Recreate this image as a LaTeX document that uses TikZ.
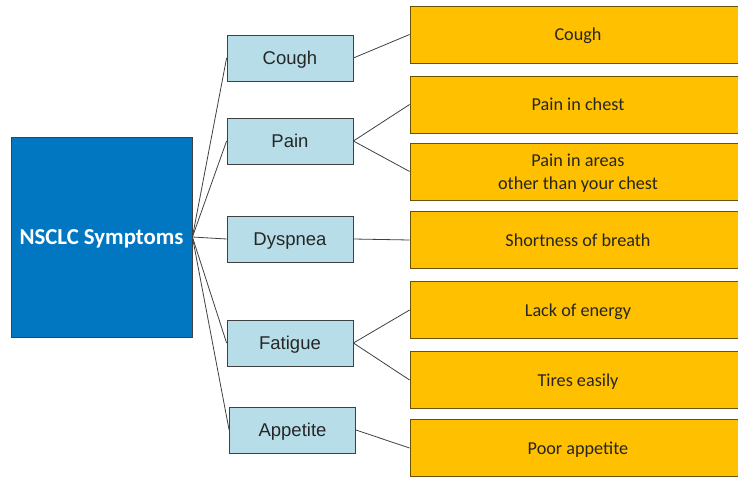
\documentclass[tikz,border=0pt]{standalone}
\usepackage{fontspec}
\setmainfont{Carlito}
\newfontfamily\arialf{Liberation Sans}
\definecolor{rootblue}{HTML}{0077C0}
\definecolor{midblue}{HTML}{B7DEE8}
\definecolor{amber}{HTML}{FFC000}
\definecolor{linegray}{HTML}{404040}
\definecolor{amberedge}{HTML}{6B5200}
\tikzset{
  rootbox/.style={draw=linegray, line width=0.8pt, fill=rootblue, text=white, font=\fontsize{22.8}{26}\selectfont\bfseries, minimum width=181pt, minimum height=200pt, inner sep=0pt, text depth=0pt},
  midbox/.style={draw=linegray, line width=0.8pt, fill=midblue, text=black!85, font=\arialf\fontsize{18.5}{21}\selectfont, minimum width=126pt, minimum height=46pt, inner sep=0pt, text depth=0pt},
  leafbox/.style={draw=amberedge, line width=0.8pt, fill=amber, text=black!85, font=\fontsize{18.2}{22.5}\selectfont, align=center, minimum width=336pt, minimum height=57pt, inner sep=0pt, text depth=0pt},
  conn/.style={draw=linegray, line width=0.8pt}
}
\begin{document}
\begin{tikzpicture}[x=1pt,y=-1pt]
\useasboundingbox (0,0) rectangle (738,476);
\clip (0,0) rectangle (738,476);
\node[rootbox] (root) at (101.5,237) {NSCLC Symptoms};
\node[midbox] (cough) at (290,58) {Cough};
\node[midbox] (pain) at (290,141) {Pain};
\node[midbox] (dysp) at (290,239) {Dyspnea};
\node[midbox] (fat) at (290,343) {Fatigue};
\node[midbox] (app) at (292.5,430) {Appetite};
\node[leafbox] (l1) at (578,34.5) {Cough};
\node[leafbox] (l2) at (578,104.5) {Pain in chest};
\node[leafbox] (l3) at (578,171.5) {Pain in areas\\other than your chest};
\node[leafbox] (l4) at (578,240) {Shortness of breath};
\node[leafbox] (l5) at (578,310) {Lack of energy};
\node[leafbox] (l6) at (578,380) {Tires easily};
\node[leafbox] (l7) at (578,448) {Poor appetite};
\foreach \m in {cough,pain,dysp,fat,app} \draw[conn] (root.east) -- (\m.west);
\draw[conn] (cough.east) -- (l1.west);
\draw[conn] (pain.east) -- (l2.west);
\draw[conn] (pain.east) -- (l3.west);
\draw[conn] (dysp.east) -- (l4.west);
\draw[conn] (fat.east) -- (l5.west);
\draw[conn] (fat.east) -- (l6.west);
\draw[conn] (app.east) -- (l7.west);
\end{tikzpicture}
\end{document}
